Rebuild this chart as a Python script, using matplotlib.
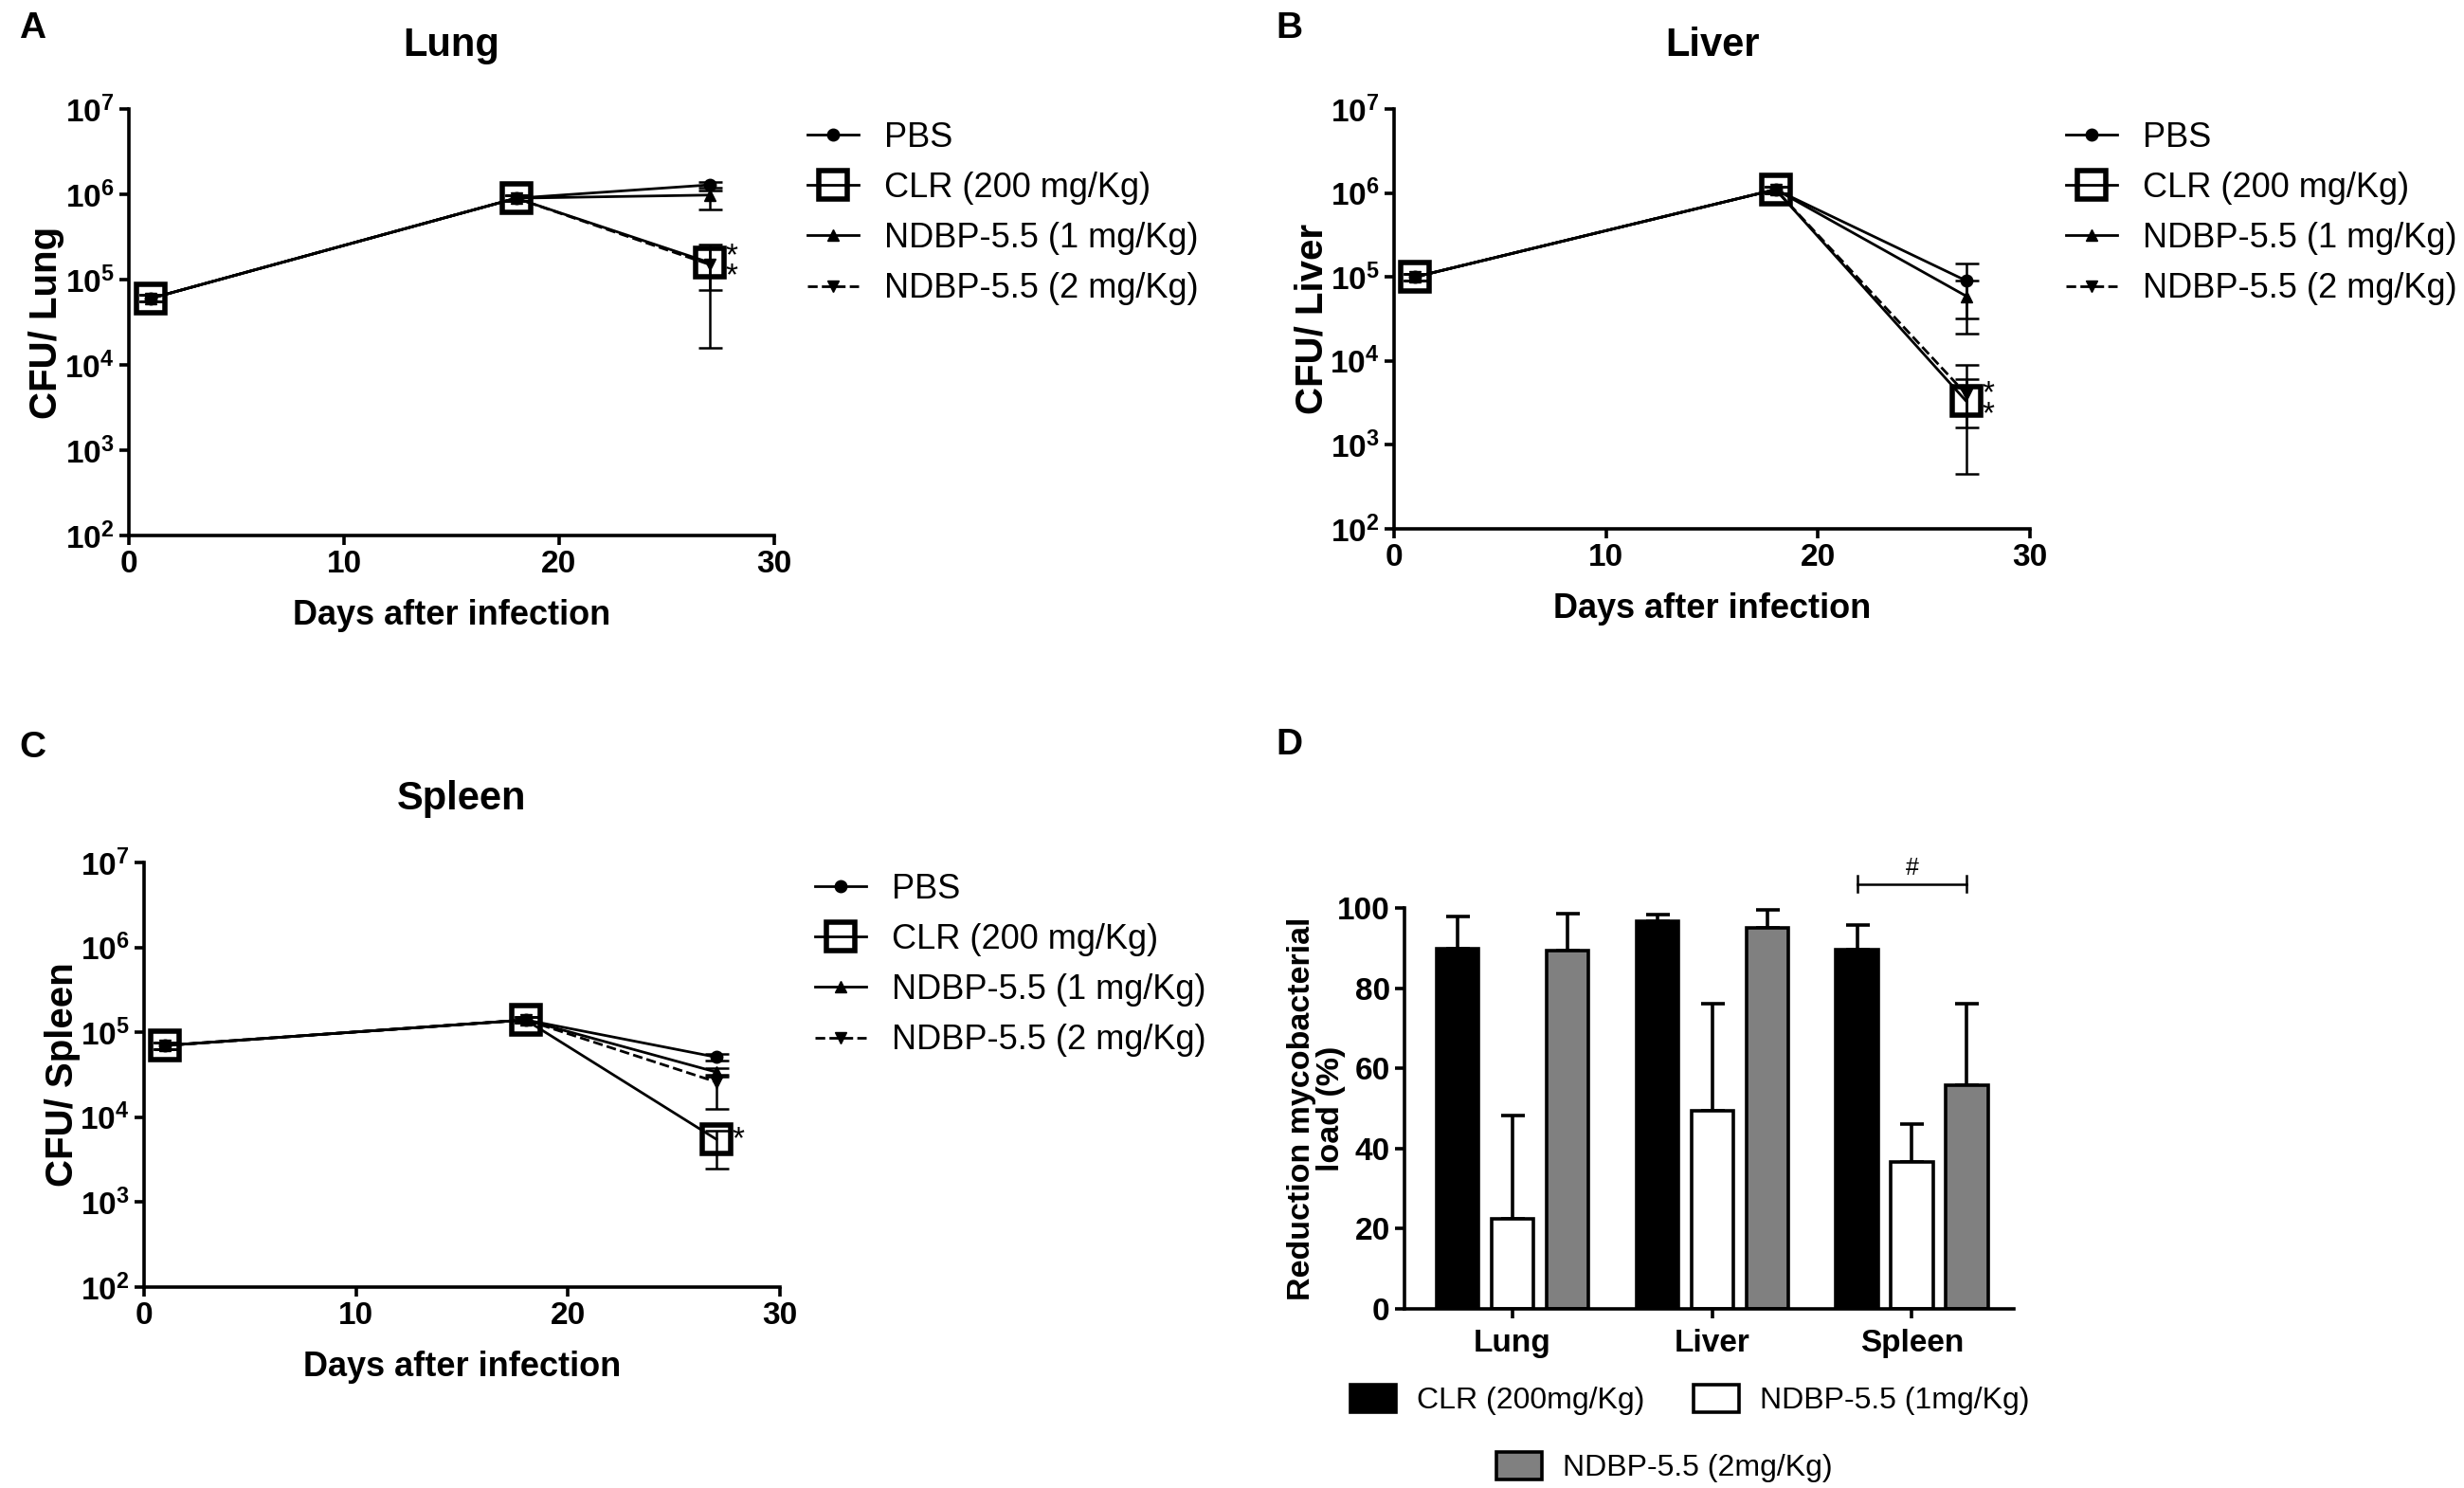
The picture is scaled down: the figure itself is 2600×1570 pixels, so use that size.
import numpy as np
import matplotlib.pyplot as plt
from matplotlib.patches import Patch

plt.rcParams['font.family'] = ['Liberation Sans', 'DejaVu Sans']
plt.rcParams['mathtext.fontset'] = 'custom'
plt.rcParams['mathtext.bf'] = 'Liberation Sans:bold'
plt.rcParams['mathtext.rm'] = 'Liberation Sans'

W, H = 2600, 1570

days = [1, 18, 27]
series = ['PBS', 'CLR (200 mg/Kg)', 'NDBP-5.5 (1 mg/Kg)', 'NDBP-5.5 (2 mg/Kg)']

# rows: PBS, CLR, NDBP 1, NDBP 2 ; columns: days
lung_mean = [[6.0e4, 9.0e5, 1.29e6], [6.0e4, 9.0e5, 1.58e5],
             [6.0e4, 9.0e5, 9.8e5], [6.0e4, 9.0e5, 1.5e5]]
lung_low = [[5.5e4, 8.3e5, 1.2e6], [5.5e4, 8.3e5, 7.5e4],
            [5.5e4, 8.3e5, 6.6e5], [5.5e4, 8.3e5, 1.6e4]]
lung_high = [[6.6e4, 9.8e5, 1.38e6], [6.6e4, 9.8e5, 2.6e5],
             [6.6e4, 9.8e5, 1.1e6], [6.6e4, 9.8e5, 2.4e5]]
lung_stars = [1.9e5, 1.06e5]

liver_mean = [[1.0e5, 1.1e6, 9.0e4], [1.0e5, 1.1e6, 3.3e3],
              [1.0e5, 1.1e6, 5.9e4], [1.0e5, 1.1e6, 4.0e3]]
liver_low = [[9.0e4, 1.0e6, 3.2e4], [9.0e4, 1.0e6, 1.6e3],
             [9.0e4, 1.0e6, 2.1e4], [9.0e4, 1.0e6, 4.5e2]]
liver_high = [[1.1e5, 1.2e6, 1.46e5], [1.1e5, 1.2e6, 8.9e3],
              [1.1e5, 1.2e6, 9.0e4], [1.1e5, 1.2e6, 6.0e3]]
liver_stars = [4.2e3, 2.2e3]

spleen_mean = [[7.0e4, 1.4e5, 5.1e4], [7.0e4, 1.4e5, 5.5e3],
               [7.0e4, 1.4e5, 3.4e4], [7.0e4, 1.4e5, 2.6e4]]
spleen_low = [[6.4e4, 1.3e5, 4.7e4], [6.4e4, 1.3e5, 2.5e3],
              [6.4e4, 1.3e5, 3.0e4], [6.4e4, 1.3e5, 1.25e4]]
spleen_high = [[7.6e4, 1.5e5, 5.5e4], [7.6e4, 1.5e5, 7.0e3],
               [7.6e4, 1.5e5, 3.8e4], [7.6e4, 1.5e5, 3.2e4]]
spleen_stars = [5.4e3]

organs = ['Lung', 'Liver', 'Spleen']
bar_labels = ['CLR (200mg/Kg)', 'NDBP-5.5 (1mg/Kg)', 'NDBP-5.5 (2mg/Kg)']
clr_red = [89.8, 96.6, 89.5]
clr_sd = [8.1, 1.7, 6.2]
ndbp1_red = [22.4, 49.3, 36.6]
ndbp1_sd = [25.9, 26.9, 9.6]
ndbp2_red = [89.3, 95.0, 55.9]
ndbp2_sd = [9.3, 4.5, 20.3]

fig = plt.figure(figsize=(W / 100, H / 100), dpi=100)


def add_ax(left, top, right, bottom):
    return fig.add_axes([left / W, 1 - bottom / H, (right - left) / W, (bottom - top) / H])


def style_ax(ax):
    for s in ['top', 'right']:
        ax.spines[s].set_visible(False)
    for s in ['left', 'bottom']:
        ax.spines[s].set_linewidth(2.6)
    ax.tick_params(direction='out', width=2.6, length=7, labelsize=24, pad=4)
    for lab in ax.get_xticklabels() + ax.get_yticklabels():
        lab.set_fontweight('bold')


styles = [dict(marker='o', ms=9, mfc='black', mec='black', ls='-'),
          dict(marker='s', ms=22, mfc='none', mec='black', mew=4, ls='-'),
          dict(marker='^', ms=9, mfc='black', mec='black', ls='-'),
          dict(marker='v', ms=9, mfc='black', mec='black', ls='--')]


def cfu_panel(box, title, ylab, mean, low, high, stars, leg_xy):
    ax = add_ax(*box)
    handles = []
    for i in range(4):
        m = np.array(mean[i])
        lo = m - np.array(low[i])
        hi = np.array(high[i]) - m
        ax.errorbar(days, m, yerr=[lo, hi], fmt='none', ecolor='black',
                    elinewidth=1.8, capsize=9, capthick=1.8, zorder=2)
        h, = ax.plot(days, m, color='black', lw=2.0, zorder=3, **styles[i])
        handles.append(h)
    # significance stars, stacked in one text when there are two
    star_y = float(np.exp(np.mean(np.log(stars))))
    ax.text(days[-1] + 0.75, star_y, '\n'.join('*' * len(stars)), fontsize=24,
            va='center', ha='left', linespacing=0.62)
    ax.set_yscale('log')
    ax.set_ylim(1e2, 1e7)
    ax.set_xlim(0, 30)
    ax.set_xticks([0, 10, 20, 30])
    ax.set_yticks([1e2, 1e3, 1e4, 1e5, 1e6, 1e7])
    ax.set_yticklabels([r'$\mathbf{10^{%d}}$' % k for k in range(2, 8)])
    ax.yaxis.set_minor_locator(plt.NullLocator())
    style_ax(ax)
    ax.set_title(title, fontsize=30, fontweight='bold', pad=40)
    ax.set_xlabel('Days after infection', fontsize=26, fontweight='bold', labelpad=15)
    ax.set_ylabel(ylab, fontsize=29, fontweight='bold')
    ax.yaxis.set_label_coords(-0.10, 0.5)
    fig.legend(handles, series, loc='upper left', bbox_to_anchor=(leg_xy[0] / W, 1 - leg_xy[1] / H),
               frameon=False, fontsize=26, numpoints=1, handlelength=1.5, handletextpad=0.75,
               labelspacing=0.5, borderpad=0, borderaxespad=0)
    return ax


cfu_panel((136, 115, 817, 565), 'Lung', 'CFU/ Lung', lung_mean, lung_low, lung_high,
          lung_stars, (852, 128))
cfu_panel((1471, 115, 2142, 558), 'Liver', 'CFU/ Liver', liver_mean, liver_low, liver_high,
          liver_stars, (2180, 128))
cfu_panel((152, 910, 823, 1358), 'Spleen', 'CFU/ Spleen', spleen_mean, spleen_low, spleen_high,
          spleen_stars, (860, 921))

# panel D
axd = add_ax(1482, 958, 2125, 1381)
x = np.arange(len(organs))
off = 0.275
wd = 0.21
vals = [clr_red, ndbp1_red, ndbp2_red]
sds = [clr_sd, ndbp1_sd, ndbp2_sd]
colors = ['black', 'white', '#808080']
for j in range(3):
    xs = x + (j - 1) * off
    axd.bar(xs, vals[j], wd, color=colors[j], edgecolor='black', lw=2.6, zorder=2)
    axd.errorbar(xs, vals[j], yerr=[np.zeros(3), sds[j]], fmt='none', ecolor='black',
                 elinewidth=2.6, capsize=9, capthick=2.6, zorder=1, clip_on=False)
bx0, bx1 = x[2] - off, x[2] + off
axd.plot([bx0, bx1], [106, 106], color='black', lw=1.8, clip_on=False)
axd.plot([bx0, bx0], [104, 108], color='black', lw=1.8, clip_on=False)
axd.plot([bx1, bx1], [104, 108], color='black', lw=1.8, clip_on=False)
axd.text(x[2], 107, '#', fontsize=18, ha='center', va='bottom')
axd.set_xlim(-0.54, 2.51)
axd.set_ylim(0, 100)
axd.set_yticks([0, 20, 40, 60, 80, 100])
axd.set_xticks(x)
axd.set_xticklabels(organs)
style_ax(axd)
axd.tick_params(axis='x', pad=8)
axd.set_ylabel('Reduction mycobacterial\nload (%)', fontsize=24.5, fontweight='bold', linespacing=1.0)
axd.yaxis.set_label_coords(-0.097, 0.5)

ph = [Patch(facecolor=c, edgecolor='black', lw=2.6) for c in colors]
fig.legend(ph[:2], bar_labels[:2], loc='upper left', ncol=2,
           bbox_to_anchor=(1425 / W, 1 - 1461 / H), frameon=False, fontsize=23,
           handlelength=1.5, handleheight=1.0, handletextpad=0.7, columnspacing=1.6,
           borderpad=0, borderaxespad=0)
fig.legend(ph[2:], bar_labels[2:], loc='upper left',
           bbox_to_anchor=(1579 / W, 1 - 1532 / H), frameon=False, fontsize=23,
           handlelength=1.5, handleheight=1.0, handletextpad=0.7,
           borderpad=0, borderaxespad=0)

for lab, (px, py) in zip('ABCD', [(20, 30), (1346, 30), (20, 789), (1346, 786)]):
    fig.text(px / W, 1 - py / H, lab, fontsize=28, fontweight='bold', ha='left', va='center')

fig.savefig('out.png', dpi=100)
